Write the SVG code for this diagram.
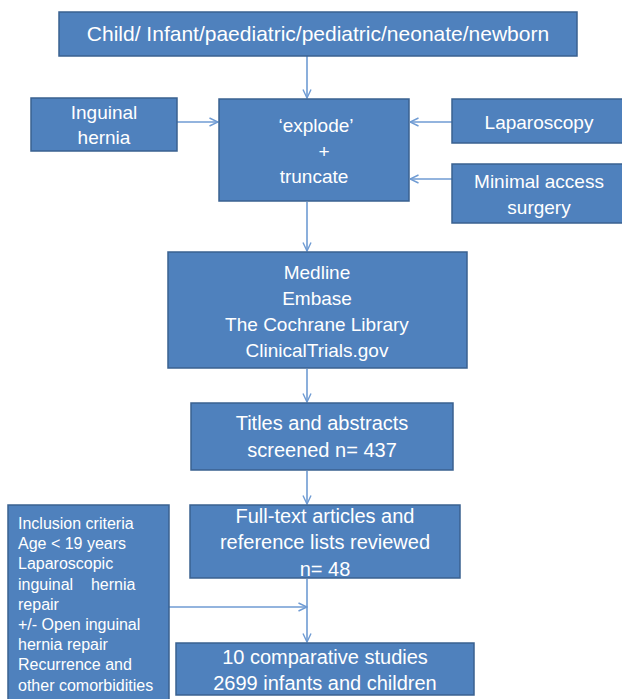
<svg xmlns="http://www.w3.org/2000/svg" width="622" height="699" viewBox="0 0 622 699">
<defs>
<style>
.box{fill:#4F81BD;stroke:#3A6190;stroke-width:1.5}
.t{fill:#FFFFFF;font-family:"Liberation Sans",Arial,sans-serif;text-anchor:middle}
.s{fill:#FFFFFF;font-family:"Liberation Sans",Arial,sans-serif;font-size:16px}
.c{stroke:#6F9BD3;stroke-width:1.6;fill:none;marker-end:url(#ah)}
</style>
<marker id="ah" viewBox="0 0 10 10" refX="9.5" refY="5" markerWidth="10" markerHeight="10" markerUnits="userSpaceOnUse" orient="auto">
<path d="M1,1 L9.5,5 L1,9" fill="none" stroke="#6F9BD3" stroke-width="1.4"/>
</marker>
</defs>
<rect width="622" height="699" fill="#FFFFFF"/>
<g id="connectors">
<line class="c" x1="307" y1="56" x2="307" y2="98"/>
<line class="c" x1="177" y1="122" x2="218" y2="122"/>
<line class="c" x1="452" y1="122" x2="410" y2="122"/>
<line class="c" x1="452" y1="179" x2="410" y2="179"/>
<line class="c" x1="307" y1="202" x2="307" y2="251"/>
<line class="c" x1="307" y1="369" x2="307" y2="402"/>
<line class="c" x1="307" y1="471" x2="307" y2="504"/>
<line class="c" x1="307" y1="579" x2="307" y2="642"/>
<line class="c" x1="169" y1="607" x2="307" y2="607"/>
</g>
<g id="n-population">
<rect class="box" x="59" y="12" width="518" height="44"/>
<text class="t" x="318" y="41" font-size="21">Child/ Infant/paediatric/pediatric/neonate/newborn</text>
</g>
<g id="n-inguinal">
<rect class="box" x="31" y="98" width="146" height="53"/>
<text class="t" x="104" y="119" font-size="19">Inguinal</text>
<text class="t" x="104" y="144" font-size="19">hernia</text>
</g>
<g id="n-explode">
<rect class="box" x="219" y="99" width="190" height="102"/>
<text class="t" x="316" y="132" font-size="19">‘explode’</text>
<text class="t" x="324" y="158" font-size="19">+</text>
<text class="t" x="314" y="183" font-size="19">truncate</text>
</g>
<g id="n-laparoscopy">
<rect class="box" x="452" y="99" width="180" height="44"/>
<text class="t" x="539" y="129" font-size="19">Laparoscopy</text>
</g>
<g id="n-minimal">
<rect class="box" x="452" y="164" width="180" height="59"/>
<text class="t" x="539" y="188" font-size="19">Minimal access</text>
<text class="t" x="539" y="214" font-size="19">surgery</text>
</g>
<g id="n-databases">
<rect class="box" x="168" y="252" width="299" height="116"/>
<text class="t" x="317" y="279" font-size="19">Medline</text>
<text class="t" x="317" y="305" font-size="19">Embase</text>
<text class="t" x="317" y="331" font-size="19">The Cochrane Library</text>
<text class="t" x="317" y="357" font-size="19">ClinicalTrials.gov</text>
</g>
<g id="n-screened">
<rect class="box" x="191" y="403" width="262" height="67"/>
<text class="t" x="322" y="430" font-size="20">Titles and abstracts</text>
<text class="t" x="322" y="457" font-size="20">screened n= 437</text>
</g>
<g id="n-fulltext">
<rect class="box" x="190" y="505" width="270" height="73"/>
<text class="t" x="325" y="523" font-size="20">Full-text articles and</text>
<text class="t" x="325" y="549" font-size="20">reference lists reviewed</text>
<text class="t" x="325" y="576" font-size="20">n= 48</text>
</g>
<g id="n-inclusion">
<rect class="box" x="8" y="505" width="161" height="200"/>
<text class="s" x="18" y="529">Inclusion criteria</text>
<text class="s" x="18" y="549">Age &lt; 19 years</text>
<text class="s" x="18" y="569">Laparoscopic</text>
<text class="s" x="18" y="590" xml:space="preserve">inguinal    hernia</text>
<text class="s" x="18" y="610">repair</text>
<text class="s" x="18" y="630">+/- Open inguinal</text>
<text class="s" x="18" y="650">hernia repair</text>
<text class="s" x="18" y="670">Recurrence and</text>
<text class="s" x="18" y="691">other comorbidities</text>
</g>
<g id="n-result">
<rect class="box" x="176" y="643" width="298" height="52"/>
<text class="t" x="325" y="664" font-size="20">10 comparative studies</text>
<text class="t" x="325" y="690" font-size="20">2699 infants and children</text>
</g>
</svg>
